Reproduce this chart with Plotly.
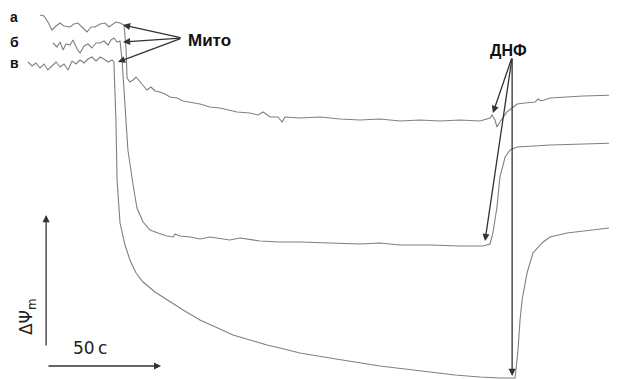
import plotly.graph_objects as go

# Time (s) and membrane potential change (arbitrary units)
t_a = [-3.1, -1.3, 0.4, 2.2, 4.0, 5.8, 7.5, 10.2, 11.9, 13.7, 15.9, 17.7, 19.5, 21.2, 23.5, 25.7,
       27.4, 28.8, 30.5, 32.3, 34.1, 35.0, 35.4, 36.7, 38.1, 39.4, 41.2, 42.9, 44.2, 46.0, 47.8,
       50.0, 52.2, 54.4, 57.5, 60.2, 64.6, 67.7, 72.1, 76.5, 84.1, 89.8, 93.4, 95.6, 98.7, 102.2,
       104.0, 105.3, 111.9, 120.8, 129.6, 138.5, 147.3, 156.2, 165.0, 173.9, 182.7, 191.6, 196.0,
       196.9, 198.2, 199.1, 200.4, 201.8, 203.5, 205.8, 208.0, 211.5, 216.0, 217.3, 218.6, 222.6,
       237.2, 252.2]
v_a = [364, 363, 357, 349, 353, 356, 353, 352, 355, 356, 351, 347, 352, 352, 355, 356,
       352, 354, 357, 356, 354, 329, 301, 297, 299, 302, 297, 293, 289, 292, 288,
       287, 285, 282, 281, 278, 276, 275, 272, 271, 267, 266, 264, 267, 262, 262,
       257, 262, 261, 262, 260, 259, 260, 258, 259, 258, 259, 258, 261,
       264, 259, 252, 257, 262, 267, 271, 275, 276, 277, 280, 278, 281,
       283, 284]

t_b = [2.7, 4.4, 5.8, 7.1, 8.4, 10.2, 11.5, 13.3, 14.6, 16.4, 18.1, 19.9, 21.7, 23.5, 25.2, 27.0,
       28.3, 29.6, 31.0, 32.3, 33.2, 34.5, 35.8, 38.1, 39.8, 42.5, 45.6, 49.1, 53.1, 55.8, 56.6,
       58.8, 63.3, 67.7, 72.1, 80.9, 85.4, 94.2, 103.1, 111.9, 125.2, 138.5, 147.3, 156.2, 169.5,
       182.7, 192.9, 196.0, 197.3, 199.1, 200.4, 202.7, 204.9, 208.0, 222.6, 237.2, 252.2]
v_b = [336, 332, 337, 329, 335, 334, 339, 330, 326, 333, 335, 331, 336, 336, 338, 334,
       339, 341, 337, 338, 319, 269, 229, 194, 171, 157, 149, 146, 143, 142, 145,
       143, 142, 140, 142, 139, 141, 138, 137, 137, 136, 135, 136, 134, 134,
       133, 133, 135, 146, 172, 202, 222, 229, 232, 234, 235, 236]

t_c = [-8.4, -6.6, -4.9, -3.1, -1.3, 0.4, 2.2, 4.0, 5.8, 7.5, 9.3, 11.1, 12.8, 14.6, 16.4, 18.1,
       19.9, 21.7, 23.5, 25.2, 27.0, 28.8, 29.6, 30.5, 31.0, 32.3, 34.5, 36.7, 39.4, 42.5, 47.8,
       53.1, 60.2, 67.7, 75.2, 82.3, 89.8, 97.3, 103.1, 111.9, 125.2, 136.3, 147.3, 158.4, 169.5,
       180.5, 191.6, 200.4, 207.1, 208.4, 209.3, 210.2, 212.4, 215.0, 219.5, 222.6, 230.1, 237.2,
       252.2]
v_c = [317, 313, 316, 311, 315, 309, 313, 317, 312, 315, 309, 318, 315, 319, 316, 320,
       322, 318, 322, 320, 317, 319, 317, 259, 199, 156, 134, 119, 106, 97, 87,
       79, 69, 59, 51, 44, 39, 34, 31, 26, 21, 17, 13, 10, 7,
       4, 2, 1, 1, 29, 59, 79, 106, 126, 137, 142, 146, 148,
       152]

trace_labels = ["а", "б", "в"]

fig = go.Figure()
for t, v in [(t_a, v_a), (t_b, v_b), (t_c, v_c)]:
    fig.add_trace(go.Scatter(x=t, y=v, mode="lines",
                             line=dict(color="#808080", width=1.1),
                             showlegend=False, hoverinfo="skip"))

ann = []
for lab, (lx, ly) in zip(trace_labels, [(-14.6, 362), (-14.6, 337), (-14.2, 316)]):
    ann.append(dict(x=lx, y=ly, text="<b>%s</b>" % lab, showarrow=False,
                    font=dict(family="Liberation Sans, Arial", size=14, color="#111"),
                    xanchor="center", yanchor="middle"))

arrow_style = dict(showarrow=True, arrowhead=2, arrowsize=1.1, arrowwidth=1.3,
                   arrowcolor="#333", axref="x", ayref="y", text="", standoff=0, startstandoff=0)
# Мито
ann.append(dict(x=72.0, y=339, text="<b>Мито</b>", showarrow=False,
                font=dict(family="Liberation Sans, Arial", size=17, color="#111")))
for hx, hy in [(33.6, 354), (33.6, 337), (31.4, 317)]:
    ann.append(dict(x=hx, y=hy, ax=59.7, ay=341, **arrow_style))
# ДНФ
ann.append(dict(x=204.0, y=329, text="<b>ДНФ</b>", showarrow=False,
                font=dict(family="Liberation Sans, Arial", size=16, color="#111")))
for hx, hy in [(197.3, 266), (193.8, 138), (205.8, 3)]:
    ann.append(dict(x=hx, y=hy, ax=205.8, ay=322, **arrow_style))
# scale bars
ann.append(dict(x=-0.4, y=164, ax=-0.4, ay=32, **arrow_style))
ann.append(dict(x=50.5, y=13, ax=0, ay=13, **arrow_style))
ann.append(dict(x=19.0, y=31, text="50\u2009c", showarrow=False,
                font=dict(family="DejaVu Sans", size=17, color="#222")))
ann.append(dict(x=-8.8, y=62, text="ΔΨ<sub>m</sub>", showarrow=False, textangle=-90,
                font=dict(family="DejaVu Sans", size=17, color="#222")))

# page body keeps an 8px margin, so the figure is 8px smaller and the ranges start accordingly
fig.update_layout(
    width=609, height=371,
    margin=dict(l=0, r=0, t=0, b=0),
    paper_bgcolor="white", plot_bgcolor="white",
    xaxis=dict(range=[-17.26, 252.2], visible=False, fixedrange=True),
    yaxis=dict(range=[0, 371], visible=False, fixedrange=True),
    annotations=ann,
)
fig.write_html("out.html")
